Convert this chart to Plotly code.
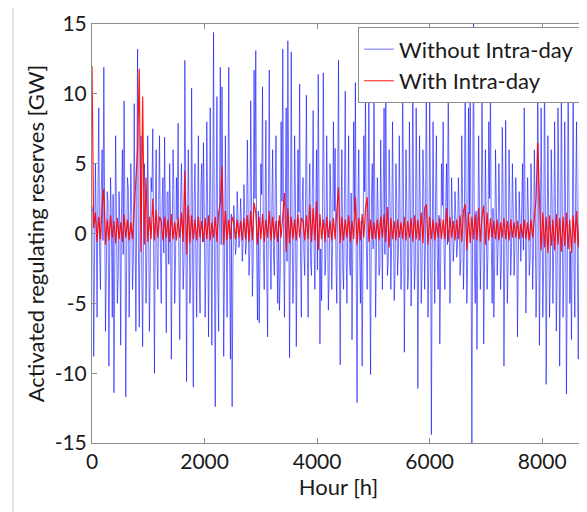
import plotly.graph_objects as go

STEP_H = 30  # spacing of the read-off spike values, hours; baseline values sit halfway between

# spike extremes, one every STEP_H hours
without_intraday_spikes = (
    [2, -8.8, 5, -6, 9, -4, 6, 11.9, -7, 3, -9.5, 4, -6, -11.4, 7, -5, 3, -8, 6, 9.5,
     -11.7, 4, -6, 5, -4, 9.3, -7, 13.2, -6.7, 7, -8.1, 5, -5, 7, -7, 4, 7.5, -10, 6, -4, 7]
    + [-5, 4, 6.9, -7.1, 3, 5, -9, 6, -5, 4, 7.9, -7.6, 5, -4, 12.4, -10.6, 6, -5, 10.4, -11,
       5, -6, 7, -5.7, 5, 6.5, -6, 8, -7.4, 9, -8, 14.4, -12.4, 9.8, -7, 11.9, 10.5, -8.8, 7, -6,
       11.9, -9, -12.4]
    + [2, -1.5, 3, -1, 2.5, -2, 3.5, -1.5, 6.7, -3, 9.5, -4.5, 11.7, 13.1, -6.2, -6.4, 5, 10.5, -4, 8.1,
       -7.4, 11.7, -4, 6, -3, 7, -5, -5.5, 8, 13.2, -6, 9, 13.8, -8.9, 13, -5, 7, -8.1, 6, 10.7, -6]
    + [4, -3, 9.9, -6, 5, -3, 8.8, -4, 6, 11.4, -7.9, -4.8, 11.5, -3, 7, -5.5, 5, -4, 8, 6.1,
       -5, 12.4, -9.4, 6, -4, 10.2, -5, 7, -3, -7.6, 8, 10.8, -12.1, 6, -5, -9.5, 7, 9.9, -4, 10.5,
       -10.1, 5]
    + [11, -6, 4, -3, 6.7, -4, 9, 12, -3, 6, -4, 8, -4.8, 5, -3, 7, -4, 11, -8.5, 6,
       -4, 8, -5.2, 13, -4, 9, -11.1, 7, -5, 6, -4, 12, -6, 10, -14.4, 8, -5, 7, -4, -7.9, 5]
    + [8, -4, 5, 11, -5, 4, -2, 3, -1.7, 4, -3, 7, -4, 13, -5, 9, 12, -15.5, 15.5, -5,
       -8.3, 7, -4, 10, -7.9, 6, -4, 8, 11, -5, -6, 6, -3, 5, -4, 7.6, -9.5, 8.1, -5, 6, -3, 5]
    + [-3, 4, -7.4, 3, -2, 5, 9, -5.7, 4, -3, 5, -4, 6, -6, 12, -8, 9, -6, 12, -10.8,
       7, -6, 6, -5, 8, -7, 9, -9.5, 11, -6, 8, -11.5, 12, -5, -7.6, 11, -6, 8, -9, 11.1,
       -14.3, 9, -11]
)

# dense core of the blue trace, between the spikes
without_intraday_core = (
    [1.5, -2.0, 0.8, 2.5, -1.2, 3.0, -0.5, 1.8, -2.6, 2.2, -1.0, 0.5, 2.8, -1.8, 1.2, -3.0, 0.6, 2.0, -1.5, 1.0,
     -2.2, 3.2, -0.8, 1.6, -2.0, 0.9, 2.4, -1.3, 1.9, -2.8, 0.4, 2.6, -1.6, 1.1, -2.4, 3.0, -0.7, 1.4, -1.9, 2.3, -1.1]
    + [2.0, -1.4, 0.7, 2.9, -2.2, 1.3, -0.6, 3.1, -1.7, 1.0, -2.5, 2.2, 0.5, -1.9, 2.7, -0.9, 1.5, -2.8, 1.1, 2.4,
       -1.3, 0.8, -2.1, 3.3, -0.6, 1.7, -2.4, 2.0, -1.0, 0.6, 2.6, -1.8, 1.2, -3.1, 2.1, -0.8, 1.9, -2.3, 0.9, 2.8,
       -1.5, 1.4, -2.0]
    + [0.6, -0.8, 1.0, -0.5, 0.9, -0.7, 1.2, -0.6, 1.5, -1.2, 2.0, -1.5, 2.5, -0.8, 1.6, -2.2, 2.8, -1.0, 1.4, -2.5,
       2.2, -0.6, 1.8, -1.4, 3.0, -1.1, 0.9, -2.7, 2.3, -0.9, 1.7, -2.0, 3.2, -1.2, 1.0, -2.4, 2.6, -0.7, 1.5, -1.8, 2.1]
    + [-1.3, 2.4, -0.9, 1.8, -2.2, 3.0, -0.5, 1.3, -2.6, 2.1, -1.1, 0.7, 2.7, -1.6, 1.2, -2.9, 2.0, -0.8, 1.6, -2.1,
       3.1, -1.0, 0.8, -2.5, 2.5, -1.4, 1.1, -2.0, 2.9, -0.7, 1.5, -2.7, 2.2, -1.2, 0.9, -2.3, 3.0, -0.9, 1.7, -1.9,
       2.4, -1.1]
    + [2.2, -1.0, 1.4, -2.4, 0.8, 2.9, -1.5, 1.1, -2.0, 2.5, -0.6, 1.7, -2.6, 2.0, -1.2, 0.9, -2.2, 3.0, -0.8, 1.5,
       -2.8, 2.3, -1.1, 0.7, -2.1, 2.7, -1.4, 1.2, -2.5, 3.2, -0.9, 1.8, -2.3, 2.1, -1.3, 0.6, 2.8, -1.7, 1.3, -2.4, 2.0]
    + [-1.2, 1.9, -0.8, 2.4, -1.6, 1.0, -0.5, 1.2, -0.9, 1.5, -1.8, 2.6, -1.1, 3.0, -2.2, 1.4, -0.7, 2.8, -2.5, 1.6,
       -1.3, 2.2, -0.9, 2.9, -2.0, 1.1, -1.5, 2.5, -0.6, 1.8, -2.3, 2.0, -1.0, 1.3, -2.1, 2.7, -1.4, 0.8, -1.9, 2.3,
       -1.0, 1.6]
    + [-0.9, 1.4, -1.7, 0.8, 1.9, -1.2, 2.5, -0.7, 1.3, -1.8, 2.2, -1.0, 1.6, -2.4, 3.0, -1.5, 2.1, -2.6, 2.8, -1.9,
       1.2, -2.7, 2.4, -1.1, 1.8, -2.9, 3.2, -1.6, 2.0, -2.5, 1.5, -3.0, 2.7, -1.3, 0.9, -2.8, 3.1, -1.8, 2.3, -3.2,
       2.6, -2.0]
)

with_intraday = (
    [12, 0.4, 1.5, -0.6, 1.2, -0.4, 2.0, 3.2, -0.8, 1.0, -0.5, 1.3, -0.3, 0.9, -0.7, 1.1, -0.4, 0.8, -0.6, 1.4,
     -0.3, 1.0, -0.5, 0.8, -0.4, 2.0, 3.5, 6.0, 11.8, -1.3, 9.8, -0.8, 4.0, -0.6, 1.2, -0.4, 2.5, -0.5, 1.7, -0.3, 1.2]
    + [0.9, -0.5, 1.2, -0.3, 1.0, -0.6, 1.4, -0.4, 0.8, -0.5, 1.1, -0.3, 1.5, -0.6, 4.5, -1.5, 2.0, -0.7, 1.3, -0.4,
       1.0, -0.5, 1.2, -0.3, 0.9, -0.6, 1.1, -0.4, 1.3, -0.5, 0.8, -0.3, 1.2, -0.6, 1.5, 2.2, 4.8, -0.8, 1.6, -0.5,
       1.0, -0.4, 1.2]
    + [0.8, -0.4, 1.0, -0.3, 0.9, -0.5, 1.1, -0.4, 1.3, -0.6, 1.6, -0.5, 2.2, 1.5, -0.8, 1.2, -0.4, 1.4, -0.6, 1.0,
       -0.3, 1.6, -0.5, 1.2, -0.4, 0.9, -0.6, 1.3, -0.3, 1.5, 2.9, -1.3, 1.8, -0.7, 1.2, -0.4, 1.0, -0.5, 1.4, -0.3, 1.1]
    + [0.9, -0.5, 1.3, -0.4, 2.1, -0.6, 1.8, -0.5, 2.3, -1.2, 1.4, -0.4, 1.0, -0.6, 1.2, -0.3, 0.9, -0.5, 1.1, -0.4,
       1.6, 3.3, -0.7, 1.2, -0.5, 1.0, -0.3, 1.3, -0.6, 0.9, -0.4, 2.6, -0.8, 1.1, -0.5, 1.4, -0.3, 1.8, 2.6, -0.6,
       1.0, -0.4]
    + [0.8, -0.4, 1.0, -0.5, 1.2, -0.3, 1.4, -0.6, 1.9, -1.0, 1.1, -0.4, 0.9, -0.5, 1.0, -0.3, 0.8, -0.4, 1.2, -0.5,
       0.9, -0.3, 1.1, -0.6, 1.3, -0.4, 1.0, -0.5, 1.5, -0.7, 1.8, 2.1, -0.8, 1.2, -0.4, 1.0, -0.5, 0.8, -0.3, 1.1, -0.4]
    + [1.0, -0.4, 1.8, -0.6, 1.2, -0.3, 0.9, -0.5, 1.0, -0.4, 1.3, -0.6, 1.6, 2.1, -1.2, 1.5, -0.7, 1.2, -0.4, 1.4,
       -0.5, 1.8, -0.6, 1.2, 2.0, -0.8, 1.5, -0.5, 1.1, -0.3, 0.9, -0.4, 1.0, -0.5, 0.8, -0.3, 1.1, -0.4, 0.9, -0.5,
       1.0, -0.3]
    + [0.8, -0.3, 0.9, -0.4, 0.7, -0.3, 1.0, -0.4, 0.8, -0.5, 1.0, -0.3, 1.5, 2.5, 6.5, 3.0, -1.2, 1.5, -1.0, 1.2,
       -1.4, 1.3, -0.9, 1.0, -1.2, 1.4, -0.8, 1.1, -1.3, 1.2, -0.9, 1.5, -1.1, 1.0, -1.4, 1.3, -0.7, 1.6, -1.0, 1.2,
       -0.8, 1.5, -0.6]
)

x_ticks = [0, 2000, 4000, 6000, 8000]
y_ticks = [-15, -10, -5, 0, 5, 10, 15]

# interleave spikes (every STEP_H h) with the core values (half a step later)
hours_blue, blue_vals = [], []
for i, v in enumerate(without_intraday_spikes):
    hours_blue.append(STEP_H * i)
    blue_vals.append(v)
    if i < len(without_intraday_core):
        hours_blue.append(STEP_H * i + STEP_H / 2)
        blue_vals.append(without_intraday_core[i])
hours_red = [STEP_H * i for i in range(len(with_intraday))]

FONT = "Lato"
TXT = "#1a1a1a"
AX = "#8c8c8c"

# the page body has an 8px default margin, so the figure is 8px smaller on each axis
W, H = 579, 504
ML, MR, MT, MB = 84, 2, 16, 69
PW, PH = W - ML - MR, H - MT - MB

fig = go.Figure()
fig.add_trace(go.Scatter(x=hours_blue, y=blue_vals, mode="lines",
                         name="Without Intra-day",
                         line=dict(color="rgba(0,0,255,0.7)", width=0.8)))
fig.add_trace(go.Scatter(x=hours_red, y=with_intraday, mode="lines",
                         name="With Intra-day",
                         line=dict(color="rgba(255,0,0,0.9)", width=1.2)))

axis_common = dict(showgrid=False, zeroline=False, showline=True, linecolor=AX,
                   linewidth=1, mirror="ticks", ticks="inside", ticklen=5,
                   tickcolor=AX, automargin=False,
                   tickfont=dict(family=FONT, size=21, color=TXT))

fig.update_layout(
    width=W, height=H,
    margin=dict(l=ML, r=MR, t=MT, b=MB),
    paper_bgcolor="white", plot_bgcolor="white",
    font=dict(family=FONT, size=21, color=TXT),
    xaxis=dict(range=[0, 8760], tickvals=x_ticks, ticktext=[str(v) for v in x_ticks],
               title=dict(text="Hour [h]", font=dict(family=FONT, size=22, color=TXT), standoff=0),
               **axis_common),
    yaxis=dict(range=[-15, 15], tickvals=y_ticks, ticktext=[str(v) for v in y_ticks],
               title=dict(text="Activated regulating reserves [GW]", font=dict(family=FONT, size=22, color=TXT),
                          standoff=3),
               **axis_common),
    legend=dict(x=0.99, y=0.992, xanchor="right", yanchor="top",
                bgcolor="white", bordercolor=AX, borderwidth=1,
                font=dict(family=FONT, size=22, color=TXT),
                tracegroupgap=0, itemwidth=30),
    showlegend=True,
)

fig.add_shape(type="line", xref="paper", yref="paper",
              x0=(5 - ML) / PW, x1=(5 - ML) / PW, y0=-MB / PH, y1=(H - MB) / PH,
              line=dict(color="#c8c8c8", width=1))

fig.write_html("out.html")
